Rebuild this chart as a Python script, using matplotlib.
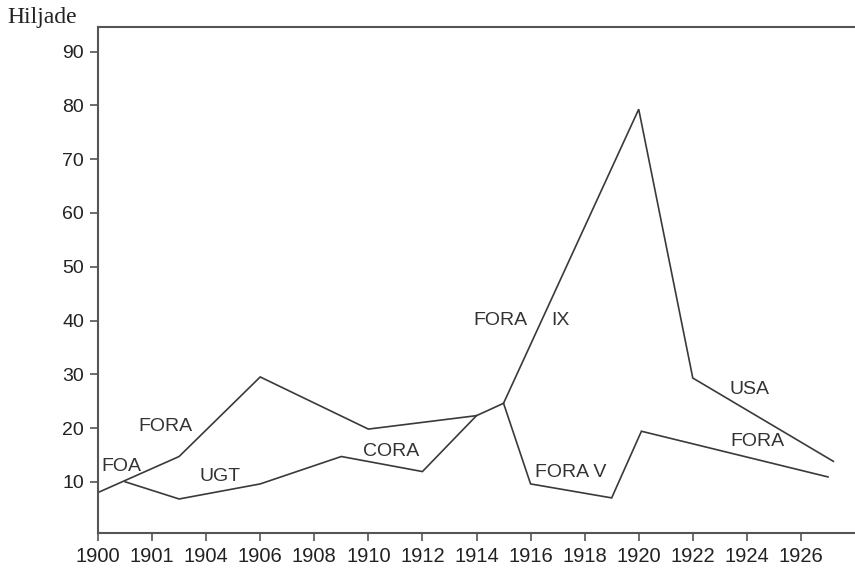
import matplotlib.pyplot as plt

# Tick positions (evenly spaced) and their printed labels
tick_pos = [1900, 1902, 1904, 1906, 1908, 1910, 1912, 1914, 1916, 1918, 1920, 1922, 1924, 1926]
tick_lab = ["1900", "1901", "1904", "1906", "1908", "1910", "1912",
            "1914", "1916", "1918", "1920", "1922", "1924", "1926"]

# FOA -> FORA -> FORA IX -> USA
main_x = [1900, 1903, 1906, 1910, 1914, 1915, 1920, 1922, 1927.2]
main_y = [8.0, 14.7, 29.5, 19.8, 22.3, 24.6, 79.3, 29.3, 13.8]

# UGT -> CORA branch
ugt_x = [1901, 1903, 1906, 1909, 1912, 1914]
ugt_y = [10.0, 6.8, 9.6, 14.7, 11.9, 22.3]

# FORA V -> FORA branch
fv_x = [1915, 1916, 1919, 1920.1, 1927]
fv_y = [24.6, 9.6, 7.0, 19.4, 10.9]

labels = [("FOA", 1900.85, 12.8), ("FORA", 1902.5, 20.3), ("UGT", 1904.5, 10.9),
          ("CORA", 1910.85, 15.6), ("FORA", 1914.9, 40.0), ("IX", 1917.1, 40.0),
          ("FORA V", 1917.5, 11.7), ("USA", 1924.1, 27.1), ("FORA", 1924.4, 17.5)]

line_col = "#3a3a3a"

fig = plt.figure(figsize=(8.55, 5.71), dpi=100)
ax = fig.add_axes([98 / 855, 38 / 571, 1 - 98 / 855, 506 / 571])

for xs, ys in [(main_x, main_y), (ugt_x, ugt_y), (fv_x, fv_y)]:
    ax.plot(xs, ys, color=line_col, lw=1.2, solid_joinstyle="miter")

for txt, x, y in labels:
    ax.text(x, y, txt, ha="center", va="center", fontsize=14,
            family="Liberation Sans", color="#333333")

ax.set_xlim(1900, 1928)
ax.set_ylim(0.47, 94.6)
ax.set_xticks(tick_pos)
ax.set_xticklabels(tick_lab, family="Liberation Sans", fontsize=14.5, color="#222222")
ax.set_yticks(range(10, 100, 10))
ax.set_yticklabels([str(v) for v in range(10, 100, 10)],
                   family="Liberation Sans", fontsize=14, color="#222222")
ax.tick_params(direction="out", length=6, width=1.2, color="#555555", pad=4)

ax.spines["right"].set_visible(False)
for s in ["left", "bottom", "top"]:
    ax.spines[s].set_color("#555555")
    ax.spines[s].set_linewidth(1.5)

fig.text(7 / 855, 1 - 17 / 571, "Hiljade", family="Liberation Serif",
         fontsize=17, va="center", ha="left", color="#222222")

fig.savefig("out.png", dpi=100)
